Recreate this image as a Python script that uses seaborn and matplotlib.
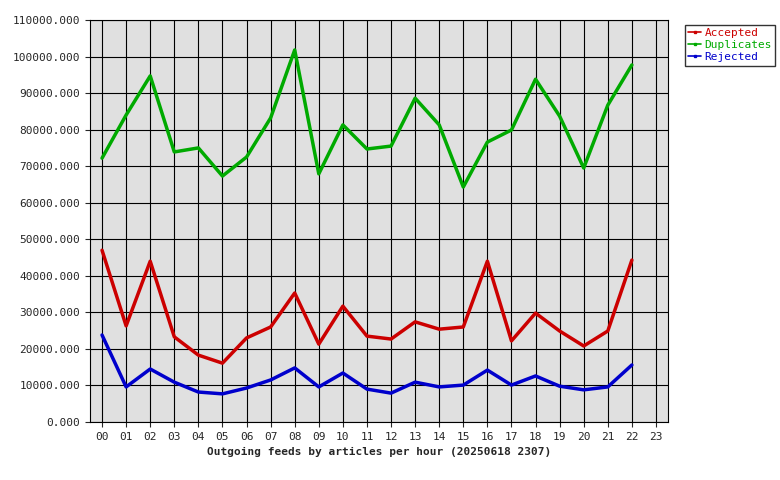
import matplotlib
matplotlib.use('Agg')
import matplotlib.pyplot as plt
import seaborn as sns
import pandas as pd

hours = [f"{h:02d}" for h in range(24)]
accepted = [47000, 26300, 44000, 23300, 18300, 16100, 23000, 26000, 35300, 21300, 31700, 23500,
            22700, 27400, 25400, 26000, 44000, 22200, 29800, 24900, 20800, 24900, 44300]
duplicates = [72200, 84000, 94700, 73900, 75000, 67300, 72500, 83200, 101800, 67900, 81300, 74700,
              75500, 88600, 81300, 64300, 76600, 79900, 93800, 83700, 69500, 86700, 97700]
rejected = [23800, 9600, 14500, 10900, 8200, 7700, 9300, 11500, 14800, 9600, 13400, 9000,
            7900, 10900, 9600, 10100, 14200, 10100, 12600, 9800, 8800, 9600, 15600]

sns.set_style('ticks')
plt.rcParams['font.family'] = ['DejaVu Sans Mono']
plt.rcParams['font.size'] = 8

n = len(accepted)
df = pd.DataFrame({
    'hour': list(range(n)) * 3,
    'value': accepted + duplicates + rejected,
    'series': ['Accepted'] * n + ['Duplicates'] * n + ['Rejected'] * n,
})

fig = plt.figure(figsize=(7.8, 4.8), dpi=100)
ax = fig.add_axes([90 / 780, 58 / 480, 578 / 780, 402 / 480])
ax.set_facecolor('#e0e0e0')
sns.lineplot(data=df, x='hour', y='value', hue='series',
             palette={'Accepted': '#cc0000', 'Duplicates': '#00aa00', 'Rejected': '#0000cc'},
             linewidth=2.5, ax=ax, legend=False)

ax.set_xlim(-0.5, 23.5)
ax.set_ylim(0, 110000)
ax.set_xticks(range(24))
ax.set_xticklabels(hours)
ax.set_yticks(range(0, 110001, 10000))
ax.set_yticklabels([f"{v:.3f}" for v in range(0, 110001, 10000)])
ax.grid(True, color='black', linewidth=0.8)
ax.set_axisbelow(True)
for s in ax.spines.values():
    s.set_color('black')
ax.set_xlabel('Outgoing feeds by articles per hour (20250618 2307)', fontweight='bold', fontsize=8)
ax.set_ylabel('')

from matplotlib.lines import Line2D
handles = [Line2D([], [], color=c, linewidth=1.2, marker='s', markersize=2)
           for c in ['#cc0000', '#00aa00', '#0000cc']]
leg = fig.legend(handles, ['Accepted', 'Duplicates', 'Rejected'], loc='upper left',
                 bbox_to_anchor=(679 / 780, 1 - 19 / 480), frameon=True, fancybox=False,
                 edgecolor='black', handlelength=1.2, handletextpad=0.3,
                 borderpad=0.3, labelspacing=0.2)
for t, c in zip(leg.get_texts(), ['#cc0000', '#00aa00', '#0000cc']):
    t.set_color(c)

fig.savefig('out.png', dpi=100)
